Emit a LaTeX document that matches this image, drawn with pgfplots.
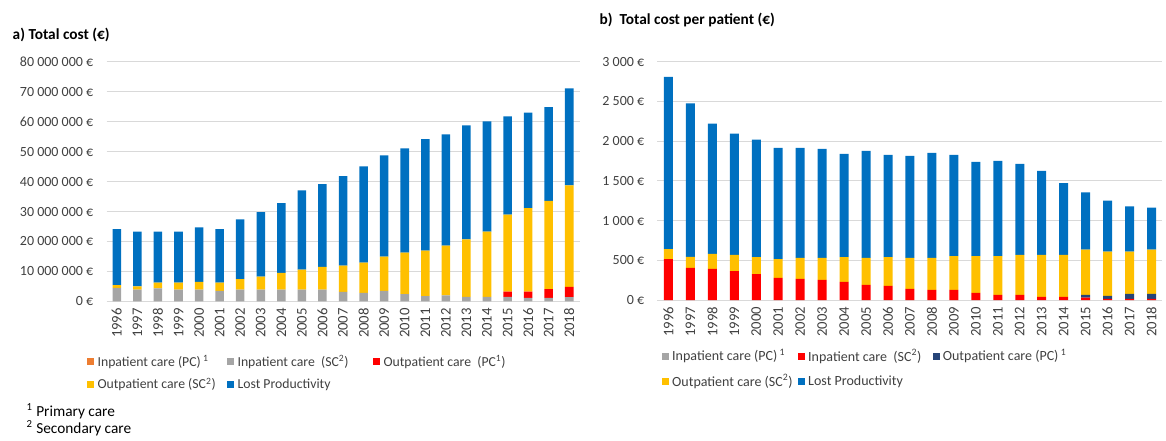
\documentclass[border=0pt]{standalone}
\usepackage{fontspec}
\setmainfont{Carlito}
\usepackage{pgfplots}
\usepackage{pgfplotstable}
\pgfplotsset{compat=1.18}
\definecolor{cLP}{HTML}{0070C0}
\definecolor{cOSC}{HTML}{FFC000}
\definecolor{cGray}{HTML}{A5A5A5}
\definecolor{cRed}{HTML}{FF0000}
\definecolor{cOrange}{HTML}{ED7D31}
\definecolor{cDark}{HTML}{264478}
\definecolor{cGrid}{HTML}{D9D9D9}
\definecolor{cTxt}{HTML}{404040}

% total cost, million EUR
\pgfplotstableread{
idx inpc insc outpc outsc lp
0  0 4.5 0   0.9  18.7
1  0 3.9 0   1.1  18.3
2  0 4.3 0   1.9  17.1
3  0 3.9 0   2.3  17.1
4  0 3.9 0   2.6  18.2
5  0 3.5 0   2.7  17.9
6  0 3.9 0   3.5  20.0
7  0 3.9 0   4.3  21.6
8  0 3.9 0   5.6  23.3
9  0 3.9 0   6.7  26.5
10 0 3.9 0   7.6  27.7
11 0 3.1 0   8.8  29.9
12 0 2.8 0   10.1 32.2
13 0 3.5 0   11.4 33.9
14 0 2.4 0   13.9 34.8
15 0 1.7 0   15.2 37.3
16 0 2.0 0   16.6 37.2
17 0 1.5 0   19.2 38.1
18 0 1.5 0   21.8 36.8
19 0 1.5 1.7 25.8 32.8
20 0 1.1 2.1 27.9 32.0
21 0 1.1 3.0 29.5 31.3
22 0 1.4 3.4 33.9 32.5
}\leftdata

% cost per patient, EUR
\pgfplotstableread{
idx inpc insc outpc outsc lp
0  0 516 0  126 2166
1  0 405 0  139 1933
2  0 392 0  190 1640
3  0 365 0  202 1528
4  0 327 0  214 1478
5  0 280 0  236 1401
6  0 266 0  263 1388
7  0 254 0  275 1375
8  0 229 0  312 1300
9  0 190 0  339 1350
10 0 178 0  363 1287
11 0 140 0  389 1286
12 0 127 0  402 1325
13 0 127 0  427 1274
14 0 90  0  464 1185
15 0 64  0  490 1198
16 0 64  0  503 1147
17 0 40  0  527 1058
18 0 40  0  527 905
19 0 30  36 567 722
20 0 15  38 556 641
21 0 15  63 531 569
22 0 15  63 555 530
}\rightdata

\pgfplotsset{
  mybars/.style={
    scale only axis, ybar stacked, ymin=0,
    xmin=-0.5, xmax=22.5,
    axis line style={draw=none}, major tick length=0pt,
    ymajorgrids, grid style={cGrid, line width=0.75pt},
    xtick={0,...,22},
    xticklabels={1996,1997,1998,1999,2000,2001,2002,2003,2004,2005,2006,2007,2008,2009,2010,2011,2012,2013,2014,2015,2016,2017,2018},
    xticklabel style={yshift=-5pt, rotate=90, anchor=east, inner sep=0pt, font=\fontsize{11}{12}\selectfont, text=cTxt},
    yticklabel style={anchor=east, inner sep=0pt, xshift=-9.75pt, font=\fontsize{10.5}{12}\selectfont, text=cTxt},
    legend columns=3,
    legend cell align=left,
    legend image code/.code={\fill[##1] (0pt,-2.6pt) rectangle (5.2pt,2.6pt);},
    legend style={draw=none, fill=none, inner sep=0pt, nodes={inner sep=0pt}, text=cTxt,
      /tikz/every odd column/.append style={column sep=2.5pt}},
  }
}

\begin{document}
\begin{tikzpicture}
\path (0,0) rectangle (874.5pt,327.75pt);

\node[anchor=west, font=\fontsize{11.5}{13}\selectfont\bfseries] at (6pt,301.5pt) {a) Total cost (€)};
\node[anchor=west, font=\fontsize{11.5}{13}\selectfont\bfseries] at (446.25pt,312.75pt) {b)\ \ Total cost per patient (€)};

\node[anchor=west, font=\fontsize{11.5}{13}\selectfont] at (16.5pt,19pt) {\textsuperscript{1} Primary care};
\node[anchor=west, font=\fontsize{11.5}{13}\selectfont] at (16.5pt,6.75pt) {\textsuperscript{2} Secondary care};

\begin{axis}[mybars,
  at={(79.9pt,101.8pt)}, anchor=south west,
  width=354.75pt, height=179.5pt,
  bar width=6.4pt, ymax=80,
  ytick={0,10,...,80},
  yticklabels={0~€,10~000~000~€,20~000~000~€,30~000~000~€,40~000~000~€,50~000~000~€,60~000~000~€,70~000~000~€,80~000~000~€},
  legend style={at={(-0.0412,-0.225)}, anchor=north west, row sep=7pt, font=\fontsize{10.3}{11}\selectfont},
]
\addplot[fill=cOrange, draw=none] table[x=idx, y=inpc]{\leftdata};
\addplot[fill=cGray, draw=none] table[x=idx, y=insc]{\leftdata};
\addplot[fill=cRed, draw=none] table[x=idx, y=outpc]{\leftdata};
\addplot[fill=cOSC, draw=none] table[x=idx, y=outsc]{\leftdata};
\addplot[fill=cLP, draw=none] table[x=idx, y=lp]{\leftdata};
\addlegendentry{\makebox[97.3pt][l]{Inpatient care (PC)\,\textsuperscript{1}}}
\addlegendentry{\makebox[101.8pt][l]{Inpatient care\ \ (SC\textsuperscript{2})}}
\addlegendentry{Outpatient care\ \ (PC\textsuperscript{1})}
\addlegendentry{\makebox[97.3pt][l]{Outpatient care (SC\textsuperscript{2})}}
\addlegendentry{Lost Productivity}
\end{axis}

\begin{axis}[mybars,
  at={(493.1pt,102.75pt)}, anchor=south west,
  width=378.75pt, height=178.7pt,
  bar width=6.75pt, ymax=3000,
  ytick={0,500,...,3000},
  yticklabels={0~€,500~€,1~000~€,1~500~€,2~000~€,2~500~€,3~000~€},
  legend style={at={(0.0083,-0.206)}, anchor=north west, row sep=8.5pt, font=\fontsize{10.5}{12}\selectfont},
]
\addplot[fill=cGray, draw=none] table[x=idx, y=inpc]{\rightdata};
\addplot[fill=cRed, draw=none] table[x=idx, y=insc]{\rightdata};
\addplot[fill=cDark, draw=none] table[x=idx, y=outpc]{\rightdata};
\addplot[fill=cOSC, draw=none] table[x=idx, y=outsc]{\rightdata};
\addplot[fill=cLP, draw=none] table[x=idx, y=lp]{\rightdata};
\addlegendentry{\makebox[94.3pt][l]{Inpatient care (PC)\,\textsuperscript{1}}}
\addlegendentry{\makebox[93.3pt][l]{Inpatient care\ \ (SC\textsuperscript{2})}}
\addlegendentry{Outpatient care (PC)\,\textsuperscript{1}}
\addlegendentry{\makebox[94.3pt][l]{Outpatient care (SC\textsuperscript{2})}}
\addlegendentry{Lost Productivity}
\end{axis}
\end{tikzpicture}
\end{document}
